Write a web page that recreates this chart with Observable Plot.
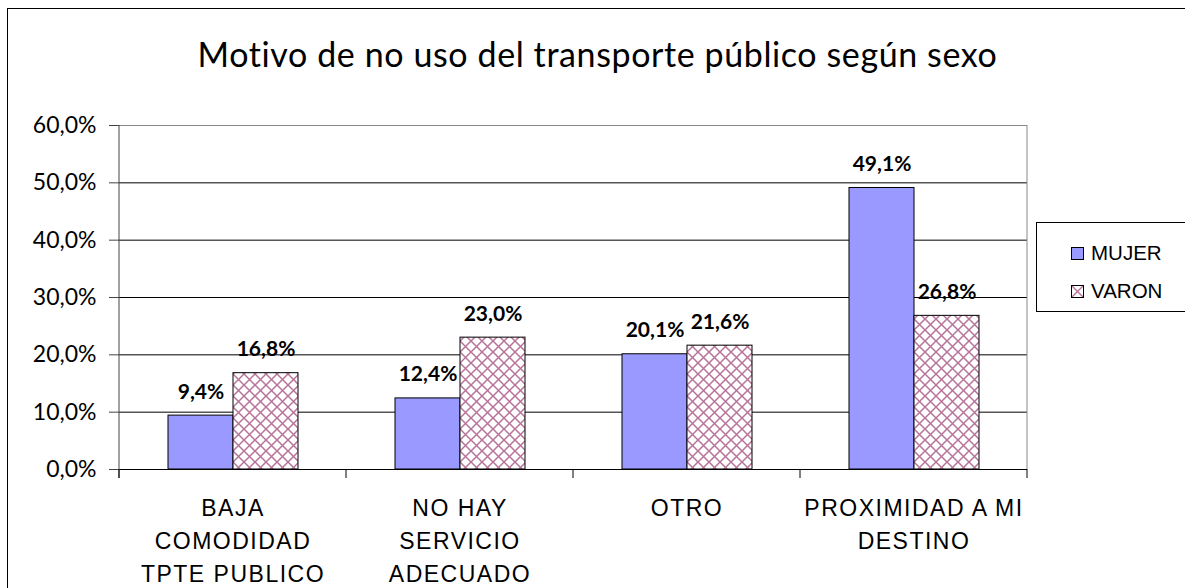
<!DOCTYPE html>
<html>
<head>
<meta charset="utf-8">
<script src="https://cdn.jsdelivr.net/npm/d3@7"></script>
<script src="https://cdn.jsdelivr.net/npm/@observablehq/plot@0.6"></script>
<style>
  html, body { margin: 0; padding: 0; background: #fff; }
  #wrap { position: relative; width: 1185px; height: 588px; overflow: hidden; }
  #border { position: absolute; left: 7px; top: 8px; width: 1300px; height: 700px; border: 1px solid #000; box-sizing: border-box; }
  #title { position: absolute; left: 0; width: 1195px; top: 33px; text-align: center; font-family: Lato, "Open Sans", sans-serif; font-size: 34px; letter-spacing: 0.6px; color: #000; }
  #chart { position: absolute; left: 0; top: 0; }
  #legend { position: absolute; left: 1036px; top: 222px; width: 200px; height: 90px; border: 1px solid #000; box-sizing: border-box; background: #fff; font-family: "Liberation Sans", Arial, sans-serif; font-size: 20.5px; }
  .item { position: absolute; left: 34px; display: flex; align-items: center; }
  .sw { width: 11px; height: 11px; border: 1px solid #000; margin-right: 7px; }
</style>
</head>
<body>
<div id="wrap">
  <div id="border"></div>
  <div id="chart"></div>
  <div id="title">Motivo de no uso del transporte público según sexo</div>
  <div id="legend"></div>
</div>
<script>
const categories = ["BAJA COMODIDAD TPTE PUBLICO", "NO HAY SERVICIO ADECUADO", "OTRO", "PROXIMIDAD A MI DESTINO"];
const categoryLines = [["BAJA", "COMODIDAD", "TPTE PUBLICO"], ["NO HAY", "SERVICIO", "ADECUADO"], ["OTRO"], ["PROXIMIDAD A MI", "DESTINO"]];
const series = ["MUJER", "VARON"];
const mujer = [9.4, 12.4, 20.1, 49.1];
const varon = [16.8, 23.0, 21.6, 26.8];
const yTicks = [0, 10, 20, 30, 40, 50, 60];

const data = [];
categories.forEach((c, i) => {
  data.push({cat: c, sex: "MUJER", value: mujer[i]});
  data.push({cat: c, sex: "VARON", value: varon[i]});
});
const fmt = v => v.toFixed(1).replace(".", ",") + "%";
const fills = {MUJER: "#9999FF", VARON: "url(#hatch)"};
const hatchColor = "#B8739A";

const chart = Plot.plot({
  width: 1185,
  height: 588,
  marginLeft: 117,
  marginRight: 157,
  marginTop: 125,
  marginBottom: 119,
  style: {background: "transparent", overflow: "visible"},
  fx: {domain: categories, padding: 0, axis: null, label: null},
  x: {domain: series, paddingInner: 0, paddingOuter: 0.725, axis: null, label: null},
  y: {domain: [0, 60], axis: null, label: null},
  marks: [
    Plot.gridY(yTicks.filter(d => d > 0 && d < 60), {stroke: "#000", strokeOpacity: 1, strokeWidth: 1}),
    Plot.gridY([60], {stroke: "#888", strokeOpacity: 1}),
    Plot.axisY(yTicks, {
      label: null, tickSize: 10, tickPadding: 13, tickFormat: fmt, fontSize: 23,
      fontFamily: "Lato, 'Open Sans', sans-serif", stroke: "#444", fill: "#000"
    }),
    Plot.barY(data, {fx: "cat", x: "sex", y: "value", fill: d => fills[d.sex], stroke: "#000", strokeWidth: 1}),
    Plot.text(data, {
      fx: "cat", x: "sex", y: "value", text: d => fmt(d.value), lineAnchor: "bottom", dy: -17,
      fontSize: 21, fontWeight: "bold", fontFamily: "Lato, 'Open Sans', sans-serif", fill: "#000"
    }),
    Plot.ruleY([0], {stroke: "#000"}),
    Plot.text(categories, {
      fx: d => d, text: (d, i) => categoryLines[i].join("\n"), frameAnchor: "bottom",
      lineAnchor: "top", dy: 23, lineHeight: 1.43, fontSize: 23,
      fontFamily: "'Liberation Sans', Arial, sans-serif", fill: "#000",
      className: "catlabel"
    })
  ]
});

document.getElementById("chart").appendChild(chart);

const svg = d3.select(chart);
svg.selectAll(".catlabel text").style("letter-spacing", "1.5px");

// pattern for VARON
const defs = svg.insert("defs", ":first-child");
const pat = defs.append("pattern").attr("id", "hatch").attr("patternUnits", "userSpaceOnUse")
  .attr("width", 11).attr("height", 11);
pat.append("rect").attr("width", 11).attr("height", 11).attr("fill", "#fff");
pat.append("path").attr("d", "M0,0L11,11M11,0L0,11M-1,10L1,12M10,-1L12,1")
  .attr("stroke", hatchColor).attr("stroke-width", 1.5).attr("fill", "none");

// plot area lines and category boundary ticks
const fxs = chart.scale("fx");
const ys = chart.scale("y");
const y0 = ys.apply(0), yTop = ys.apply(60);
const bounds = categories.map(c => fxs.apply(c));
bounds.push(fxs.apply(categories[categories.length - 1]) + fxs.bandwidth);
const g = svg.append("g");
g.append("line").attr("x1", bounds[0]).attr("x2", bounds[0]).attr("y1", yTop).attr("y2", y0 + 9).attr("stroke", "#444");
g.append("line").attr("x1", bounds[4]).attr("x2", bounds[4]).attr("y1", yTop).attr("y2", y0).attr("stroke", "#888");
bounds.forEach(b => g.append("line").attr("x1", b).attr("x2", b).attr("y1", y0).attr("y2", y0 + 9).attr("stroke", "#000"));

// legend
const leg = document.getElementById("legend");
series.forEach((s, i) => {
  const it = document.createElement("div");
  it.className = "item";
  it.style.top = (18 + i * 38) + "px";
  const sw = document.createElement("div");
  sw.className = "sw";
  if (s === "MUJER") sw.style.background = "#9999FF";
  else sw.style.background = `linear-gradient(45deg, transparent 44%, ${hatchColor} 47%, ${hatchColor} 53%, transparent 56%), linear-gradient(-45deg, transparent 44%, ${hatchColor} 47%, ${hatchColor} 53%, transparent 56%), #fff`;
  const t = document.createElement("span");
  t.textContent = s;
  it.appendChild(sw); it.appendChild(t);
  leg.appendChild(it);
});
</script>
</body>
</html>
